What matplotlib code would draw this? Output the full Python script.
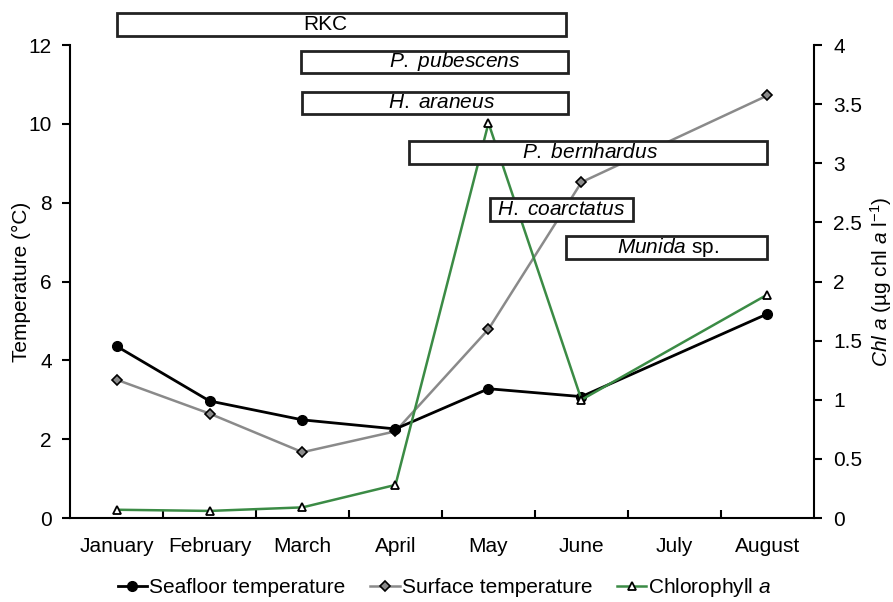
import matplotlib
matplotlib.use("Agg")
import matplotlib.pyplot as plt
from matplotlib.patches import Rectangle
from matplotlib.lines import Line2D
import numpy as np

plt.rcParams['font.family'] = ['Liberation Sans', 'DejaVu Sans']
plt.rcParams['font.size'] = 15
plt.rcParams['mathtext.fontset'] = 'custom'
plt.rcParams['mathtext.rm'] = 'Liberation Sans'
plt.rcParams['mathtext.it'] = 'Liberation Sans:italic'

# data
months = ["January", "February", "March", "April", "May", "June", "July", "August"]
data_idx = [0, 1, 2, 3, 4, 5, 7]   # no sampling in July
seafloor = [4.36, 2.97, 2.49, 2.26, 3.28, 3.08, 5.18]
surface = [3.51, 2.65, 1.67, 2.20, 4.79, 8.52, 10.72]
chl = [0.07, 0.06, 0.09, 0.28, 3.34, 1.00, 1.89]

# species presence bars (month units, temperature rows)
species = ["RKC", "P. pubescens", "H. araneus", "P. bernhardus", "H. coarctatus", "Munida sp."]
sp_start = [0.0, 1.98, 2.0, 3.15, 4.02, 4.83]
sp_end = [4.83, 4.85, 4.85, 7.0, 5.55, 7.0]
sp_row = [12.52, 11.57, 10.53, 9.27, 7.83, 6.86]
sp_textx = [2.25, 3.64, 3.5, 5.09, 4.78, 5.93]
sp_labels = ["RKC", r"$\it{P.\ pubescens}$", r"$\it{H.\ araneus}$", r"$\it{P.\ bernhardus}$",
             r"$\it{H.\ coarctatus}$", r"$\it{Munida}$ sp."]

green = "#3b8b45"

fig = plt.figure(figsize=(8.93, 6.02), dpi=100)
ax = fig.add_axes([0.0784, 0.1395, 0.8331, 0.7857])
ax2 = ax.twinx()

ax.plot(data_idx, seafloor, color="black", lw=2.0, marker="o", ms=7,
        mfc="black", mec="black", zorder=3)
ax.plot(data_idx, surface, color="#8a8a8a", lw=1.8, marker="D", ms=5.5,
        mfc="#8a8a8a", mec="black", mew=1.2, zorder=2)
ax2.plot(data_idx, chl, color=green, lw=1.8, marker="^", ms=6,
         mfc="white", mec="black", mew=1.3, zorder=2)

ax.set_xlim(-0.5, 7.5)
ax.set_ylim(0, 12)
ax2.set_ylim(0, 4)
ax.set_yticks(np.arange(0, 13, 2))
ax2.set_yticks([0, 0.5, 1, 1.5, 2, 2.5, 3, 3.5, 4])
ax2.set_yticklabels(["0", "0.5", "1", "1.5", "2", "2.5", "3", "3.5", "4"])

ax.set_xticks(range(len(months)))
ax.set_xticklabels(months)
ax.set_xticks(np.arange(0.5, 7, 1), minor=True)
ax.tick_params(axis="x", which="major", length=0, pad=14)
ax.tick_params(axis="x", which="minor", direction="in", length=6, width=1.5)
ax.tick_params(axis="y", length=6, width=1.5, pad=7)
ax2.tick_params(axis="y", length=6, width=1.5, pad=8)

for a in (ax, ax2):
    a.spines["top"].set_visible(False)
    for s in ("left", "right", "bottom"):
        a.spines[s].set_linewidth(1.5)
ax2.spines["left"].set_visible(False)
ax2.spines["bottom"].set_visible(False)
ax.spines["right"].set_visible(False)

ax.set_ylabel("Temperature (°C)", labelpad=-2)
ax2.set_ylabel(r"$\it{Chl\ a}$ (µg chl $\it{a}$ l$^{-1}$)", labelpad=4)

# species presence boxes on top of all lines
h = 0.57
for i in range(len(species)):
    r = Rectangle((sp_start[i], sp_row[i] - h / 2), sp_end[i] - sp_start[i], h,
                  transform=ax.transData, facecolor="white", edgecolor="#222222",
                  lw=2, zorder=10, clip_on=False)
    ax2.add_patch(r)
    ax2.text(sp_textx[i], sp_row[i], sp_labels[i], transform=ax.transData,
             ha="center", va="center", fontsize=15, zorder=11, clip_on=False)

handles = [
    Line2D([], [], color="black", lw=2.0, marker="o", ms=7, mfc="black", mec="black"),
    Line2D([], [], color="#8a8a8a", lw=1.8, marker="D", ms=5.5, mfc="#8a8a8a", mec="black", mew=1.2),
    Line2D([], [], color=green, lw=1.8, marker="^", ms=6, mfc="white", mec="black", mew=1.3),
]
fig.legend(handles, ["Seafloor temperature", "Surface temperature", r"Chlorophyll $\it{a}$"],
           loc="center", bbox_to_anchor=(0.498, 0.024), ncol=3, frameon=False,
           handlelength=1.4, handletextpad=0.1, columnspacing=1.2, fontsize=15)

fig.savefig("out.png", dpi=100)
